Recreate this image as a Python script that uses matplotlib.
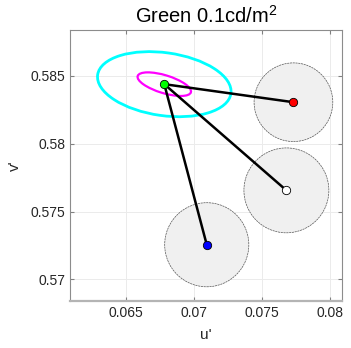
import matplotlib

matplotlib.use("Agg")
import matplotlib.pyplot as plt
from matplotlib.patches import Circle, Ellipse

plt.rcParams["font.family"] = ["Liberation Sans", "DejaVu Sans"]
plt.rcParams["mathtext.fontset"] = "custom"
plt.rcParams["mathtext.rm"] = "Liberation Sans"
plt.rcParams["mathtext.it"] = "Liberation Sans:italic"

# reference (adapting) chromaticity
ref_uv = (0.06782, 0.58439)

# test chromaticities, their colours and tolerance circle radii
test_u = [0.07734, 0.07682, 0.07095]
test_v = [0.58306, 0.57656, 0.57255]
test_colors = ["#ff0000", "#ffffff", "#0000ff"]
circle_r = [0.0029, 0.00313, 0.0031]

# discrimination ellipses around the reference: (semi-major, semi-minor, angle deg)
ell_cyan = (0.00496, 0.00232, -8)
ell_magenta = (0.00205, 0.00066, -17)

xticks = [0.065, 0.07, 0.075, 0.08]
xticklabels = ["0.065", "0.07", "0.075", "0.08"]
yticks = [0.57, 0.575, 0.58, 0.585]
yticklabels = ["0.57", "0.575", "0.58", "0.585"]

fig = plt.figure(figsize=(3.51, 3.48), dpi=100)
ax = fig.add_axes([0.1994, 0.135, 0.775, 0.779])

for u, v, r in zip(test_u, test_v, circle_r):
    ax.add_patch(
        Circle((u, v), r, facecolor="#f0f0f0", edgecolor="#555555",
               lw=0.5, ls=(0, (3, 1)), zorder=1)
    )

for (a, b, ang), col, lw in [(ell_cyan, "#00ffff", 2.0), (ell_magenta, "#ff00ff", 1.6)]:
    ax.add_patch(
        Ellipse(ref_uv, 2 * a, 2 * b, angle=ang, fill=False,
                edgecolor=col, lw=lw, zorder=2)
    )

for u, v in zip(test_u, test_v):
    ax.plot([ref_uv[0], u], [ref_uv[1], v], color="black", lw=1.8, zorder=3)

for u, v, c in zip(test_u, test_v, test_colors):
    ax.plot(u, v, "o", ms=6, mfc=c, mec="black", mew=0.6, zorder=4)
ax.plot(*ref_uv, "o", ms=6, mfc="#00ff00", mec="black", mew=0.6, zorder=4)

ax.set_xlim(0.06087, 0.08092)
ax.set_ylim(0.5684, 0.58839)
ax.set_xticks(xticks)
ax.set_xticklabels(xticklabels)
ax.set_yticks(yticks)
ax.set_yticklabels(yticklabels)
ax.tick_params(direction="in", length=3, labelsize=10, colors="#262626",
               top=True, right=True, color="#808080")
ax.grid(True, color="#ebebeb", lw=0.7, zorder=0)
ax.set_axisbelow(True)
for side in ("left", "right", "top"):
    ax.spines[side].set_color("#8c8c8c")
    ax.spines[side].set_linewidth(0.8)
ax.spines["bottom"].set_color("#b4b4b4")
ax.spines["bottom"].set_linewidth(1.6)

ax.set_xlabel("u'", fontsize=11, color="#262626", labelpad=6)
ax.set_ylabel("v'", fontsize=11, color="#262626", labelpad=6)
ax.set_title("Green 0.1cd/m$^2$", fontsize=14.5, color="black", pad=5)

fig.savefig("out.png", dpi=100)
